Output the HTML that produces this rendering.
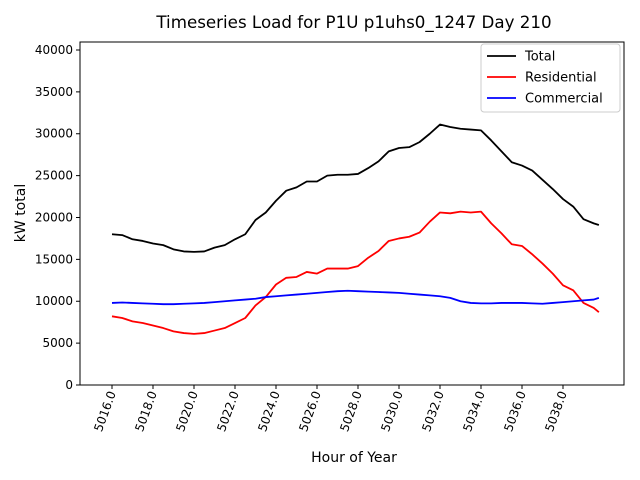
<!DOCTYPE html>
<html><head><meta charset="utf-8"><style>
body{margin:0;background:#fff}
svg{display:block;font-family:"DejaVu Sans","Liberation Sans",sans-serif}
</style></head><body>
<svg id="chart" width="640" height="480">
<rect width="640" height="480" fill="#fff"/>
<text x="354" y="28" text-anchor="middle" font-size="16.7">Timeseries Load for P1U p1uhs0_1247  Day 210</text>
<g id="plot"></g>
<text x="354" y="462" text-anchor="middle" font-size="14">Hour of Year</text>
<text transform="translate(25,213) rotate(-90)" text-anchor="middle" font-size="14">kW total</text>
</svg>
<script>
const hours=[5016,5016.5,5017,5017.5,5018,5018.5,5019,5019.5,5020,5020.5,5021,5021.5,5022,5022.5,5023,5023.5,5024,5024.5,5025,5025.5,5026,5026.5,5027,5027.5,5028,5028.5,5029,5029.5,5030,5030.5,5031,5031.5,5032,5032.5,5033,5033.5,5034,5034.5,5035,5035.5,5036,5036.5,5037,5037.5,5038,5038.5,5039,5039.5,5039.75];
const total=[18000,17900,17400,17200,16900,16700,16200,15950,15900,15950,16400,16700,17400,18000,19700,20600,22000,23200,23600,24300,24300,25000,25100,25100,25200,25900,26700,27900,28300,28400,29000,30000,31100,30800,30600,30500,30400,29200,27900,26600,26200,25600,24500,23400,22200,21300,19800,19300,19100];
const residential=[8200,8000,7600,7400,7100,6800,6400,6200,6100,6200,6500,6800,7400,8000,9500,10500,12000,12800,12900,13500,13300,13900,13900,13900,14200,15200,16000,17200,17500,17700,18200,19500,20600,20500,20700,20600,20700,19300,18100,16800,16600,15600,14500,13300,11900,11300,9800,9200,8700];
const commercial=[9800,9850,9800,9750,9700,9650,9650,9700,9750,9800,9900,10000,10100,10200,10300,10500,10600,10700,10800,10900,11000,11100,11200,11250,11200,11150,11100,11050,11000,10900,10800,10700,10600,10400,10000,9800,9750,9750,9800,9800,9800,9750,9700,9800,9900,10000,10100,10200,10400];
const yTicks=[0,5000,10000,15000,20000,25000,30000,35000,40000];
const xTicks=[5016,5018,5020,5022,5024,5026,5028,5030,5032,5034,5036,5038];
const L=80,R=624,T=42,B=385,YMAX=40955;
const xs=h=>112+(h-5016)*20.5;
const ys=v=>B-(v/YMAX)*(B-T);
const NS="http://www.w3.org/2000/svg";
const g=document.getElementById('plot');
function mk(t,a,p){const e=document.createElementNS(NS,t);for(const k in a)e.setAttribute(k,a[k]);(p||g).appendChild(e);return e;}
const frame=mk('rect',{x:L,y:T,width:R-L,height:B-T,fill:'none',stroke:'#000','stroke-width':1});


yTicks.forEach(v=>{
  const y=ys(v);
  const t=mk('line',{x1:L-4,x2:L,y1:y,y2:y,stroke:'#000'});
  
  
  const lb=mk('text',{x:L-7,y:y+4,'text-anchor':'end','font-size':12});
  lb.textContent=v;
  
  
});
xTicks.forEach(h=>{
  const x=xs(h);
  const t=mk('line',{x1:x,x2:x,y1:B,y2:B+4,stroke:'#000'});
  
  
  const lb=mk('text',{transform:`translate(${x+4},${B+8}) rotate(-70)`,'text-anchor':'end','font-size':12});
  lb.textContent=h.toFixed(1);
  
  
});
[[total,'#000','total-line'],[residential,'#f00','residential-line'],[commercial,'#00f','commercial-line']].forEach(([s,c,n])=>{
  const p=mk('polyline',{points:s.map((v,i)=>xs(hours[i])+','+ys(v)).join(' '),fill:'none',stroke:c,'stroke-width':1.8,'stroke-linejoin':'round'});
  
  
});
const lg=mk('g',{});


mk('rect',{x:481,y:44,width:139,height:68,rx:3,fill:'#fff',stroke:'#ccc','fill-opacity':0.8},lg);
[['Total','#000'],['Residential','#f00'],['Commercial','#00f']].forEach(([n,c],i)=>{
  const y=56+i*21;
  const e=mk('g',{},lg);
  
  
  mk('line',{x1:487,x2:516,y1:y,y2:y,stroke:c,'stroke-width':1.8},e);
  const t=mk('text',{x:525,y:y+4.5,'font-size':13},e);
  t.textContent=n;
});
</script>
</body></html>
